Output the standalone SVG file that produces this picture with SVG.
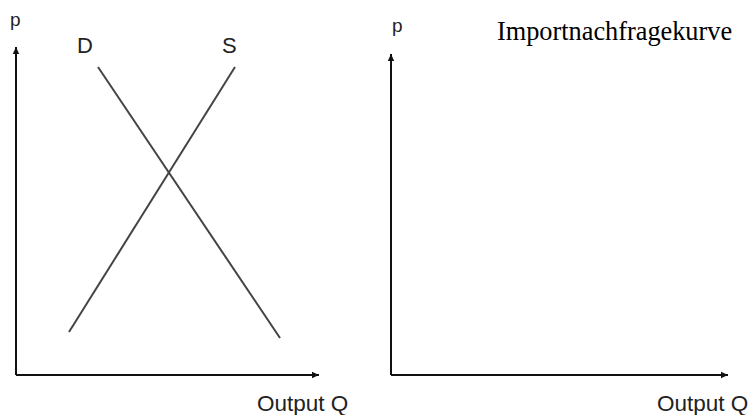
<svg xmlns="http://www.w3.org/2000/svg" width="751" height="415" viewBox="0 0 751 415">
<defs>
<marker id="ah" markerWidth="8" markerHeight="8" refX="7" refY="4" orient="auto" markerUnits="userSpaceOnUse">
<path d="M0,0.8 L7,4 L0,7.2 Z" fill="#111"/>
</marker>
<style>
.ax{stroke:#111;stroke-width:2;fill:none}
.cv{stroke:#444;stroke-width:2;fill:none}
.lb{font-family:"Liberation Sans",Arial,sans-serif;fill:#222}
.tt{font-family:"Liberation Serif","Times New Roman",serif;fill:#000}
</style>
</defs>
<rect width="751" height="415" fill="#fff"/>
<g id="connectors">
<path class="ax" d="M16,375 V47" marker-end="url(#ah)"/>
<path class="ax" d="M16,375 H319" marker-end="url(#ah)"/>
<path class="ax" d="M391,375 V54" marker-end="url(#ah)"/>
<path class="ax" d="M391,375 H728" marker-end="url(#ah)"/>
<line class="cv" x1="98" y1="67" x2="280" y2="338"/>
<line class="cv" x1="235" y1="67" x2="69" y2="332"/>
</g>
<g id="left-labels">
<text class="lb" x="10" y="26" font-size="19">p</text>
<text class="lb" x="77" y="53" font-size="22">D</text>
<text class="lb" x="222" y="53" font-size="22">S</text>
<text class="lb" x="257" y="411" font-size="22.5">Output Q</text>
</g>
<g id="right-labels">
<text class="lb" x="392" y="32" font-size="19">p</text>
<text class="tt" x="497" y="40" font-size="26.3">Importnachfragekurve</text>
<text class="lb" x="657" y="411" font-size="22.5">Output Q</text>
</g>
</svg>
